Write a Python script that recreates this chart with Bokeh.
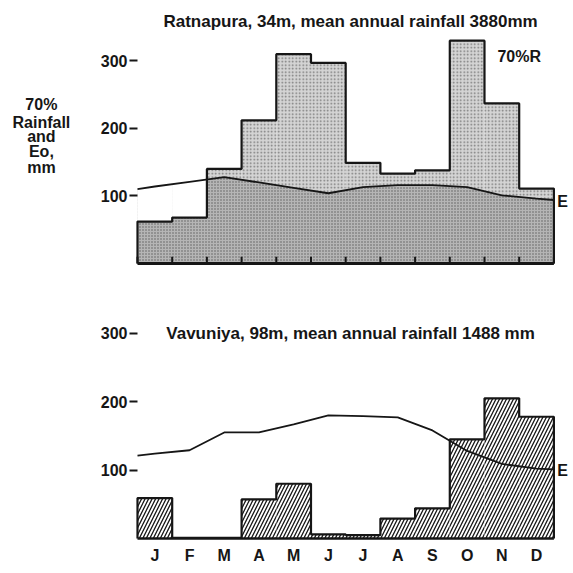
from bokeh.plotting import figure
from bokeh.layouts import column
from bokeh.models import FixedTicker, Label, Range1d
from bokeh.embed import file_html
from bokeh.resources import INLINE

# ---------------- data ----------------
months = ["J", "F", "M", "A", "M", "J", "J", "A", "S", "O", "N", "D"]
month_start = list(range(12))
month_end = list(range(1, 13))
month_mid = [m + 0.5 for m in range(12)]
month_bounds = list(range(13))

# 70% of mean monthly rainfall, mm
ratnapura_rain70 = [62, 68, 140, 212, 310, 297, 149, 133, 138, 330, 237, 111]
vavuniya_rain70 = [59, 1, 1, 57, 80, 6, 5, 29, 44, 145, 205, 178]

# Open-water evaporation Eo, mm (year start, mid-months, year end)
e_pos = [0] + month_mid + [12]
ratnapura_e = [110, 114, 121, 128, 120, 112, 104, 113, 116, 116, 113, 101, 96, 94]
vavuniya_e = [121, 124, 129, 155, 155, 167, 180, 179, 177, 158, 128, 109, 102, 101]

y_ticks = [100, 200, 300]
tick_labels = {100: "100", 200: "200", 300: "300"}

title_top = "Ratnapura, 34m, mean annual rainfall 3880mm"
title_bottom = "Vavuniya, 98m, mean annual rainfall 1488 mm"
ylabel_lines = ["70%", "Rainfall", "and", "Eo,", "mm"]

FONT = "Liberation Sans"
INK = "#161616"
X_START, X_END = -3.948, 12.565


def outline(vals):
    xs, ys = [month_start[0]], [0]
    for i, v in enumerate(vals):
        xs += [month_start[i], month_end[i]]
        ys += [v, v]
    xs.append(month_end[-1])
    ys.append(0)
    return xs, ys


def base_fig(height, y_start, y_end, b_top, b_bottom):
    p = figure(width=573, height=height, output_backend="svg", toolbar_location=None,
               x_range=Range1d(X_START, X_END), y_range=Range1d(y_start, y_end),
               min_border_left=0, min_border_right=0,
               min_border_top=b_top, min_border_bottom=b_bottom)
    p.outline_line_color = None
    p.xgrid.visible = False
    p.ygrid.visible = False
    p.background_fill_color = "white"
    p.border_fill_color = "white"
    ya = p.yaxis[0]
    ya.fixed_location = 0
    ya.ticker = FixedTicker(ticks=y_ticks)
    ya.major_label_overrides = tick_labels
    ya.axis_line_color = None
    ya.major_tick_out = 8
    ya.major_tick_in = 0
    ya.major_tick_line_width = 2
    ya.major_tick_line_color = INK
    ya.minor_tick_line_color = None
    ya.major_label_standoff = 2
    ya.major_label_text_font = FONT
    ya.major_label_text_font_style = "bold"
    ya.major_label_text_font_size = "16px"
    ya.major_label_text_color = INK
    return p


def add_label(p, x, y, text, size="16px", align="center"):
    p.add_layout(Label(x=x, y=y, text=text, text_font=FONT, text_font_style="bold",
                       text_font_size=size, text_color=INK, text_align=align,
                       text_baseline="middle"))


# ---------------- top chart: Ratnapura ----------------
TOP_YEND = 388
p1 = base_fig(293, -3, TOP_YEND, 1, 28)
p1.xaxis.visible = False

# light stipple: rainfall bars
p1.quad(left=month_start, right=month_end, bottom=0, top=ratnapura_rain70,
        fill_color="#d4d4d4", hatch_pattern="dot", hatch_color="#777777",
        hatch_scale=3.5, hatch_weight=1, line_color=None)
# darker stipple under the Eo curve
p1.varea(x=e_pos, y1=0, y2=ratnapura_e, fill_color="#b5b5b5",
         hatch_pattern="dot", hatch_color="#5c5c5c", hatch_scale=3, hatch_weight=1)
# blank everything above each bar
p1.quad(left=month_start, right=month_end, bottom=ratnapura_rain70, top=TOP_YEND,
        fill_color="white", line_color="white", line_width=0.6)
p1.line(e_pos, ratnapura_e, line_color=INK, line_width=1.8)
ox, oy = outline(ratnapura_rain70)
p1.line(ox, oy, line_color=INK, line_width=2.2)
# month tick marks and baseline
p1.segment(x0=month_bounds, y0=0, x1=month_bounds, y1=10, line_color=INK, line_width=2)
p1.segment(x0=[month_start[0]], y0=[0], x1=[month_end[-1]], y1=[0],
           line_color=INK, line_width=3)

add_label(p1, 6.14, 358, title_top, size="17px")
add_label(p1, 11.0, 306, "70%R")
add_label(p1, 12.1, 92, "E", align="left")
for yv, txt in zip([235, 209, 188, 165.5, 142], ylabel_lines):
    add_label(p1, -2.77, yv, txt, size="16px")

# ---------------- bottom chart: Vavuniya ----------------
BOT_YEND = 348
p2 = base_fig(280, -3, BOT_YEND, 7, 33)
xb = p2.xaxis[0]
xb.ticker = FixedTicker(ticks=month_mid)
xb.major_label_overrides = {m: lab for m, lab in zip(month_mid, months)}
xb.major_tick_in = 0
xb.major_tick_out = 0
xb.minor_tick_line_color = None
xb.axis_line_color = None
xb.major_label_standoff = 6
xb.major_label_text_font = FONT
xb.major_label_text_font_style = "bold"
xb.major_label_text_font_size = "16px"
xb.major_label_text_color = INK

p2.quad(left=month_start, right=month_end, bottom=0, top=vavuniya_rain70,
        fill_color="white", hatch_pattern="right_diagonal_line", hatch_color=INK,
        hatch_scale=7, hatch_weight=1.3, line_color=None)
p2.line(e_pos, vavuniya_e, line_color=INK, line_width=1.8)
ox2, oy2 = outline(vavuniya_rain70)
p2.line(ox2, oy2, line_color=INK, line_width=2.2)
p2.segment(x0=[month_start[0]], y0=[0], x1=[month_end[-1]], y1=[0],
           line_color=INK, line_width=2.5)

add_label(p2, 6.14, 300, title_bottom, size="17px")
add_label(p2, 12.1, 100, "E", align="left")

layout = column(p1, p2, spacing=0)
open("out.html", "w").write(file_html(layout, INLINE))
